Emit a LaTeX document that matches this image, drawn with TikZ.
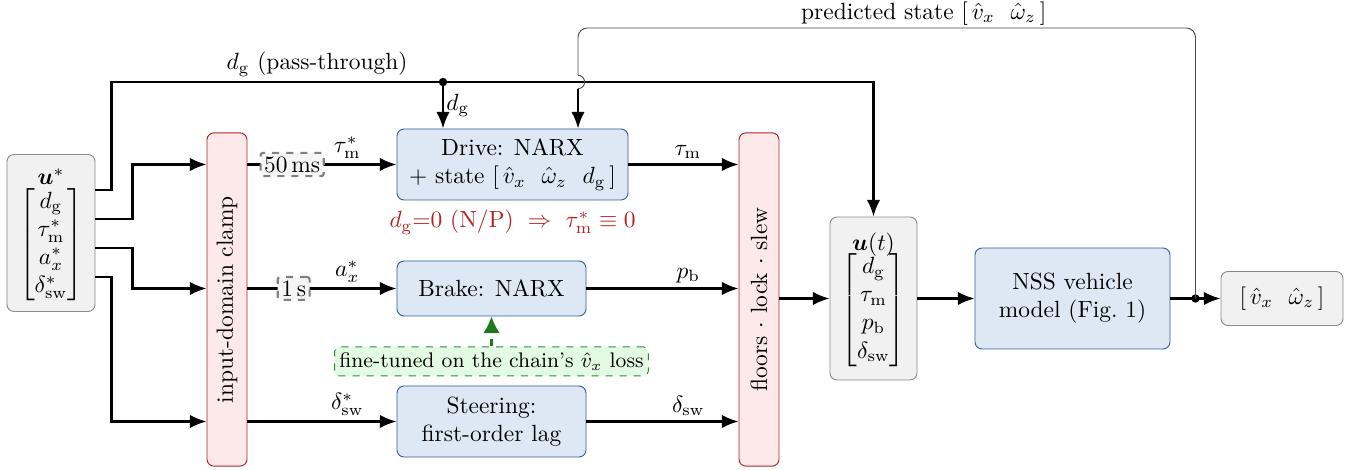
\documentclass[tikz,border=0pt]{standalone}
\usepackage{amsmath}
\usepackage{amssymb}
\usepackage{graphicx}
\usepackage{xcolor}
\usetikzlibrary{positioning,arrows.meta,calc}

\definecolor{blockfill}{HTML}{DDE8F4}
\definecolor{blockdraw}{HTML}{2F5F96}
\definecolor{barfill}{HTML}{FDE8EA}
\definecolor{bardraw}{HTML}{B0222A}
\definecolor{vecfill}{HTML}{F1F1F1}
\definecolor{vecdraw}{HTML}{8A8A8A}
\definecolor{warnred}{HTML}{B22222}
\definecolor{notefill}{HTML}{E3FBE3}
\definecolor{notedraw}{HTML}{2E8B2E}
\definecolor{tunegreen}{HTML}{1C7A1C}

\tikzset{
    block/.style={draw=blockdraw, fill=blockfill, rounded corners=3pt, align=center, inner sep=2pt},
    bar/.style={draw=bardraw, fill=barfill, rounded corners=3pt, minimum width=0.6cm, minimum height=5cm, inner sep=0pt},
    vecbox/.style={draw=vecdraw, fill=vecfill, rounded corners=3pt, align=center, inner sep=1pt},
    delay/.style={draw=gray, fill=gray!8, dashed, rounded corners=1pt, inner sep=1.5pt},
    flow/.style={line width=0.9pt, -{Latex[length=2.5mm,width=2mm]}},
    fbline/.style={thin, draw=gray!60!black},
    note/.style={draw=notedraw, fill=notefill, dashed, rounded corners=2pt, inner sep=2pt,
        minimum height=0.435cm, font=\small},
    tune/.style={line width=0.9pt, dashed, draw=tunegreen, -{Latex[length=2.5mm,width=2.5mm]}},
    warn/.style={text=warnred, inner sep=1pt},
    lbl/.style={above, inner sep=2pt}
}

\begin{document}
\begin{tikzpicture}[x=0.015cm, y=-0.015cm]
    \useasboundingbox (0,0) rectangle (1361,470);

    % blocks
    \node[vecbox, minimum width=1.32cm, minimum height=2.355cm] (ustar) at (51,233)
        {$\begin{array}{@{}c@{}}\boldsymbol{u}^*\\[-2pt]
         \begin{bmatrix} d_\mathrm{g}\\ \tau^*_\mathrm{m}\\ a^*_x\\ \delta^*_\mathrm{sw}\end{bmatrix}\end{array}$};
    \node[bar] (clamp) at (227,299.5) {\rotatebox{90}{input-domain clamp}};
    \node[block, minimum width=3.465cm, minimum height=1.065cm] (drive) at (512.5,164.5)
        {Drive: NARX\\ $+$ state $[\,\hat v_x\ \ \hat\omega_z\ \ d_\mathrm{g}\,]$};
    \node[block, minimum width=2.835cm, minimum height=0.825cm] (brake) at (491.5,288.5) {Brake: NARX};
    \node[block, minimum width=2.835cm, minimum height=1.065cm] (steer) at (491.5,421.5)
        {Steering:\\ first-order lag};
    \node[bar] (floors) at (759,299.5) {\rotatebox{90}{floors $\cdot$ lock $\cdot$ slew}};
    \node[vecbox, minimum width=1.305cm, minimum height=2.445cm] (ut) at (873.5,298.5)
        {$\begin{array}{@{}c@{}}\boldsymbol{u}(t)\\[-2pt]
         \begin{bmatrix} d_\mathrm{g}\\ \tau_\mathrm{m}\\ p_\mathrm{b}\\ \delta_\mathrm{sw}\end{bmatrix}\end{array}$};
    \node[block, minimum width=2.925cm, minimum height=1.515cm] (nss) at (1072.5,298.5)
        {NSS vehicle\\ model (Fig.~1)};
    \node[vecbox, minimum width=1.83cm, minimum height=0.81cm] (out) at (1282,298.5)
        {$[\,\hat v_x\ \ \hat\omega_z\,]$};
    \node[warn, below=0.1cm of drive] (gate)
        {$d_\mathrm{g}{=}0$ (N/P) $\;\Rightarrow\;$ $\tau^*_\mathrm{m}\equiv 0$};
    \node[note, below=0.45cm of brake] (tuned) {fine-tuned on the chain's $\hat v_x$ loss};

    % u* into the clamp, d_g around it
    \coordinate (dgsplit) at (443,82);
    \draw[flow] ([yshift=0.645cm]ustar.east) -- ++(16,0)
        |- node[lbl, pos=0.81] {$d_\mathrm{g}$ (pass-through)} (dgsplit) -| (ut.north);
    \fill (dgsplit) circle (1.8pt);
    \draw[flow] (dgsplit) -- node[right, inner sep=1pt] {$d_\mathrm{g}$} (dgsplit |- drive.north);
    \draw[flow] ([yshift=0.21cm]ustar.east) -- ++(37,0) |- (clamp.west |- drive.west);
    \draw[flow] ([yshift=-0.225cm]ustar.east) -- ++(37,0) |- (clamp.west |- brake.west);
    \draw[flow] ([yshift=-0.66cm]ustar.east) -- ++(16,0) |- (clamp.west |- steer.west);

    % clamp to the actuator models
    \draw[flow] (clamp.east |- drive.west) -- node[delay, pos=0.3] {50\,ms}
        node[lbl, pos=0.67] {$\tau^*_\mathrm{m}$} (drive.west);
    \draw[flow] (clamp.east |- brake.west) -- node[delay, pos=0.31] {1\,s}
        node[lbl, pos=0.67] {$a^*_x$} (brake.west);
    \draw[flow] (clamp.east |- steer.west) -- node[lbl, pos=0.67] {$\delta^*_\mathrm{sw}$} (steer.west);

    % actuator models to floors
    \draw[flow] (drive.east) -- node[lbl, pos=0.54] {$\tau_\mathrm{m}$} (floors.west |- drive.east);
    \draw[flow] (brake.east) -- node[lbl, pos=0.67] {$p_\mathrm{b}$} (floors.west |- brake.east);
    \draw[flow] (steer.east) -- node[lbl, pos=0.67] {$\delta_\mathrm{sw}$} (floors.west |- steer.east);

    \draw[flow] (floors.east |- ut.west) -- (ut.west);
    \draw[flow] (ut.east) -- (nss.west);
    \coordinate (fb) at ($(nss.east)!0.5!(out.west)$);
    \draw[flow] (nss.east) -- (out.west);
    \fill (fb) circle (1.8pt);

    % feedback of the predicted state
    \coordinate (fbtop) at (578,28);
    \coordinate (hop) at (fbtop |- dgsplit);
    \draw[fbline, rounded corners=4pt] (fb) -- (fb |- fbtop)
        -- node[lbl, inner sep=1pt, pos=0.44] {predicted state $[\,\hat v_x\ \ \hat\omega_z\,]$} (fbtop)
        -- ([yshift=0.1cm]hop);
    \draw[fbline] ([yshift=0.1cm]hop) arc[start angle=90, end angle=-90, radius=0.1cm];
    \draw[flow] ([yshift=-0.1cm]hop) -- (hop |- drive.north);

    \draw[tune] (tuned) -- (brake);
\end{tikzpicture}
\end{document}
